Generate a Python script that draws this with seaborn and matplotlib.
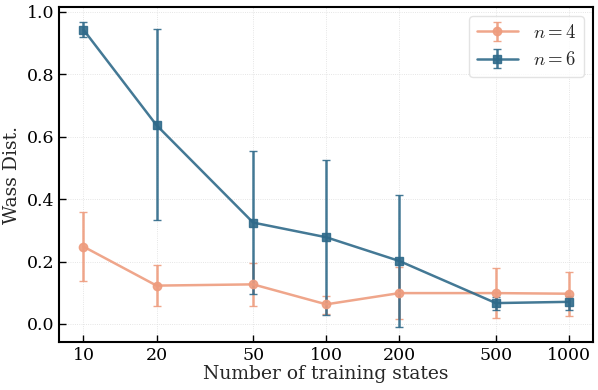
import numpy as np
import seaborn as sns
import matplotlib.pyplot as plt

# data
n_states = [10, 20, 50, 100, 200, 500, 1000]

wass_n4 = [0.248, 0.123, 0.127, 0.063, 0.099, 0.099, 0.097]
lo_n4 = [0.138, 0.057, 0.057, 0.031, 0.016, 0.020, 0.026]
hi_n4 = [0.358, 0.190, 0.197, 0.091, 0.184, 0.178, 0.168]

wass_n6 = [0.943, 0.637, 0.325, 0.278, 0.202, 0.067, 0.071]
lo_n6 = [0.920, 0.333, 0.095, 0.030, -0.009, 0.045, 0.045]
hi_n6 = [0.967, 0.944, 0.555, 0.525, 0.412, 0.087, 0.090]

sns.set_theme(style="ticks")
plt.rcParams['font.family'] = ['DejaVu Serif']
plt.rcParams['mathtext.fontset'] = 'cm'

fig, ax = plt.subplots(figsize=(5.98, 3.9), dpi=100)

series = [
    ("$n=4$", wass_n4, lo_n4, hi_n4, "#EE9C7E", "o"),
    ("$n=6$", wass_n6, lo_n6, hi_n6, "#2F6A8A", "s"),
]
for label, y, lo, hi, col, mk in series:
    y = np.array(y)
    yerr = [y - np.array(lo), np.array(hi) - y]
    ax.errorbar(n_states, y, yerr=yerr, color=col, marker=mk, markersize=6,
                lw=1.8, elinewidth=1.8, capsize=3, alpha=0.9, label=label)

ax.set_xscale("log")
ax.set_xticks(n_states)
ax.set_xticklabels([str(v) for v in n_states])
ax.minorticks_off()
ax.set_yticks([0.0, 0.2, 0.4, 0.6, 0.8, 1.0])

ax.grid(True, color="#dddddd", lw=0.6, ls=":")
ax.tick_params(direction="in", labelsize=12.5, length=5, width=1, colors="black")
for s in ax.spines.values():
    s.set_linewidth(1.5)
    s.set_color("black")

ax.set_xlabel("Number of training states", fontsize=13.5, labelpad=1)
ax.set_ylabel("Wass Dist.", fontsize=13.5)
ax.legend(loc="upper right", fontsize=13.5, frameon=True, fancybox=True,
          edgecolor="#dddddd", handlelength=2.2)

fig.subplots_adjust(left=0.099, right=0.992, top=0.982, bottom=0.123)
fig.savefig("out.png", dpi=100)
